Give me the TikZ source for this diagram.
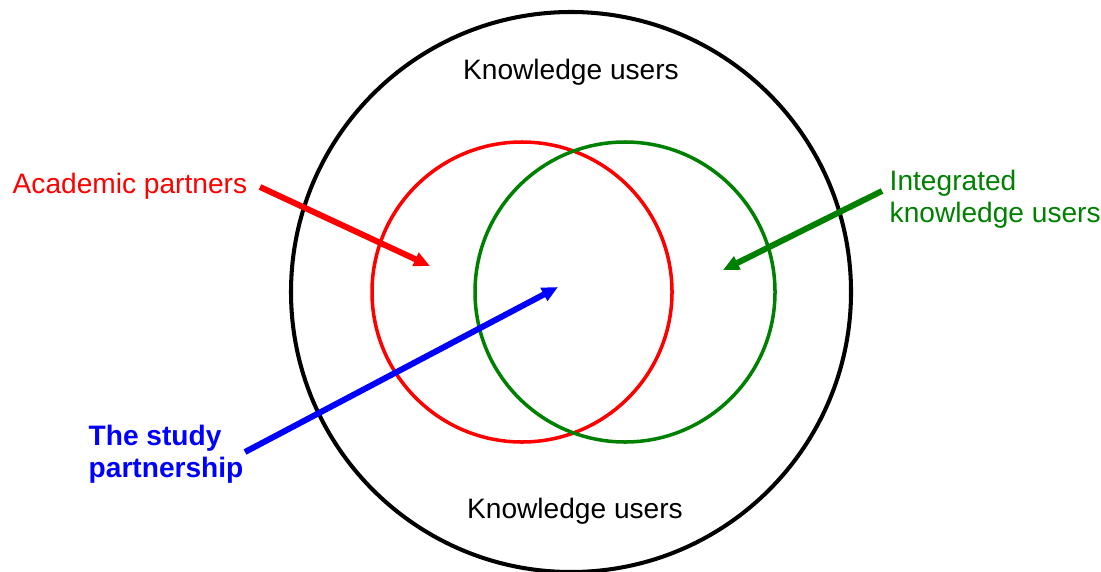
\documentclass[tikz,border=0pt]{standalone}
\usepackage{fontspec}
\setmainfont{Liberation Sans}
\usetikzlibrary{arrows.meta}
\definecolor{ikgreen}{RGB}{0,128,0}

\begin{document}
\begin{tikzpicture}[
	lbl/.style={font=\fontsize{8}{9.1}\selectfont, inner sep=0pt},
	pointer/.style={line width=1.7pt, -{Triangle[length=0.16cm,width=0.14cm]}}]
	\useasboundingbox (0,0) rectangle (11.01,5.71);
	
	\coordinate (K) at (5.71,2.79);
	\coordinate (R) at (5.22,2.79);
	\coordinate (G) at (6.25,2.79);
	
	\draw[black, line width=1.15pt] (K) circle (2.80);
	\draw[red, line width=1pt] (R) circle (1.50);
	\draw[ikgreen, line width=1pt] (G) circle (1.50);
	
	\node[lbl] (top) at (5.71,4.99) {Knowledge users};
	\node[lbl] (bot) at (5.75,0.60) {Knowledge users};
	\node[lbl, red, anchor=west] (acad) at (0.12,3.85) {Academic partners};
	\node[lbl, ikgreen, anchor=west, align=left] (integ) at (8.89,3.72) {Integrated\\knowledge users};
	\node[lbl, blue, anchor=west, align=left, font=\fontsize{8}{9.1}\selectfont\bfseries] (study) at (0.88,1.17) {The study\\partnership};
	
	\coordinate (As) at (2.60,3.84);
	\coordinate (At) at (4.30,3.05);
	\coordinate (Is) at (8.82,3.80);
	\coordinate (It) at (7.23,3.01);
	\coordinate (Ss) at (2.45,1.19);
	\coordinate (St) at (5.58,2.84);
	
	\draw[pointer, red] (As) -- (At);
	\draw[pointer, ikgreen] (Is) -- (It);
	\draw[pointer, blue] (Ss) -- (St);
\end{tikzpicture}
\end{document}
